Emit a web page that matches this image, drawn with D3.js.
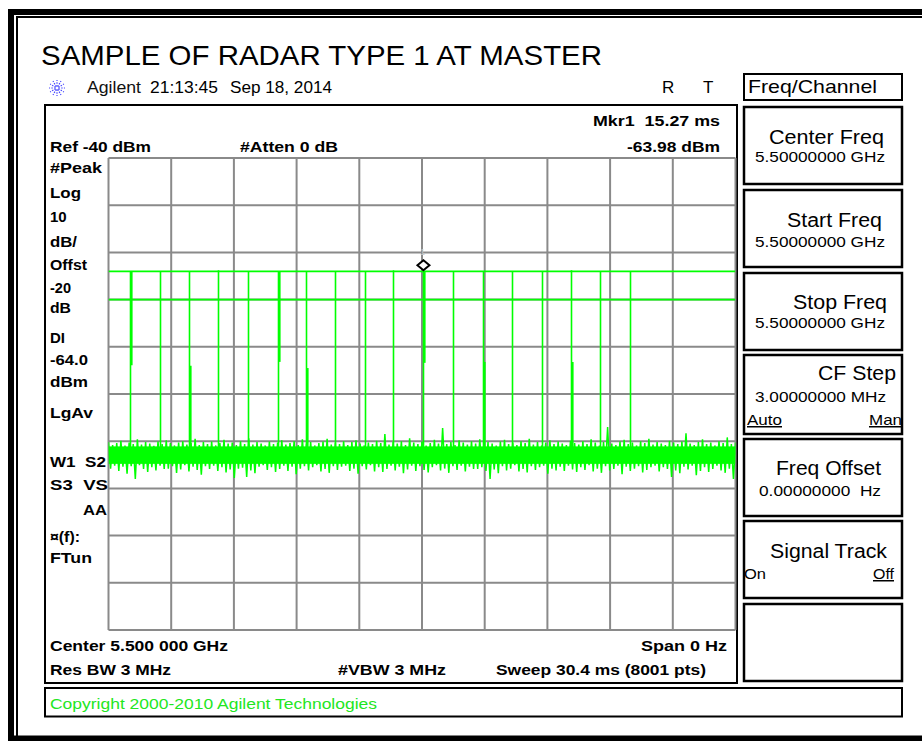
<!DOCTYPE html>
<html><head><meta charset="utf-8">
<script src="https://cdn.jsdelivr.net/npm/d3@7"></script>
<style>
body{margin:0;background:#fff}
svg{display:block}
text{font-family:"Liberation Sans",Arial,sans-serif;white-space:pre}
</style></head>
<body><svg id="c" width="922" height="741"></svg>
<script>
// ---------------- DATA ----------------
const titleText = "SAMPLE OF RADAR TYPE 1 AT MASTER";
const sweepMs = 30.4;          // span of time axis (ms)
const refLevel = -40;          // dBm at top graticule
const dbPerDiv = 10;
const divisions = 10;
const displayLine = -64.0;     // DI level dBm
const thresholdLine = -70.0;   // second green line dBm
const markerTime = 15.27;      // ms
const markerLevel = -63.98;    // dBm

// pulse times (ms) and peak levels (dBm)
const pulseTimes = [1.04,2.50,3.90,5.31,6.76,8.22,9.58,10.98,12.44,13.79,15.27,16.70,18.16,19.57,21.02,22.42,23.83,25.28];
const pulsePeaks = [-64.0,-64.0,-64.0,-63.8,-64.0,-64.0,-64.0,-64.0,-64.0,-63.8,-63.98,-64.0,-64.0,-64.0,-64.0,-63.8,-64.0,-64.0];
// extra trace samples around some pulses (dBm): upper = peak down to level, lower = noise up to level
const pulseUpper = [-83.9,null,null,null,null,-83.2,null,null,null,null,-83.4,null,null,null,null,null,null,null];
const pulseLower = [null,null,-84.0,null,null,null,-84.5,null,null,null,null,null,-83.2,null,null,-83.2,null,null];

// noise floor: sample every 0.2 ms, upper and lower excursions (dBm)
const noiseStep = 0.2;
const noiseTop = [
-100.2,-100.8,-100.4,-99.9,-100.9,-100.3,-100.6,-99.6,-100.7,-100.2,
-100.5,-101.0,-100.1,-100.6,-99.8,-100.4,-100.9,-100.3,-100.0,-100.7,
-100.4,-99.5,-100.8,-100.2,-100.6,-100.1,-100.9,-100.4,-99.7,-100.5,
-100.3,-100.8,-100.0,-100.6,-99.4,-100.7,-100.2,-100.5,-100.9,-100.1,
-100.6,-100.3,-99.8,-100.7,-100.4,-100.0,-100.8,-99.6,-100.5,-100.2,
-100.9,-100.4,-100.1,-99.5,-100.7,-100.3,-100.6,-100.0,-100.8,-100.2,
-99.8,-100.5,-100.9,-100.3,-100.6,-99.9,-100.4,-98.5,-100.7,-100.2,
-100.5,-100.0,-100.8,-99.4,-100.3,-100.6,-100.1,-100.9,-100.4,-99.7,
-100.5,-97.2,-100.6,-100.2,-100.8,-99.8,-100.3,-100.7,-100.0,-100.5,
-99.6,-100.8,-100.2,-100.5,-100.9,-100.1,-99.7,-100.6,-100.3,-100.8,
-100.0,-100.4,-99.5,-100.7,-100.2,-100.9,-100.3,-99.8,-100.6,-100.1,
-100.5,-100.8,-99.9,-100.4,-100.7,-100.0,-100.6,-99.6,-100.3,-100.9,
-100.2,-97.0,-100.5,-100.8,-100.1,-99.7,-100.6,-100.3,-100.9,-100.0,
-100.4,-99.5,-100.7,-100.2,-100.5,-100.8,-99.9,-100.3,-100.6,-100.1,
-98.3,-100.5,-100.8,-100.2,-99.6,-100.6,-100.3,-100.9,-100.0,-100.4,
-99.2,-100.6,-100.3];
const noiseBottom = [
-105.8,-105.2,-106.3,-105.4,-106.9,-105.3,-108.0,-105.1,-105.9,-106.5,
-105.5,-106.2,-105.2,-105.9,-105.8,-105.3,-106.7,-106.0,-105.1,-106.4,
-105.4,-106.1,-107.1,-105.3,-105.9,-105.2,-106.3,-105.5,-106.6,-106.0,
-107.8,-105.8,-105.6,-107.6,-106.2,-106.8,-105.4,-105.1,-106.1,-105.5,
-106.5,-105.9,-105.2,-106.3,-105.4,-107.0,-105.8,-105.3,-106.2,-105.5,
-105.1,-106.4,-105.9,-106.7,-105.3,-106.1,-105.4,-105.2,-106.3,-105.8,
-106.9,-105.3,-106.0,-105.1,-106.4,-105.5,-106.5,-105.9,-105.2,-106.2,
-105.4,-106.8,-106.0,-105.2,-106.3,-105.3,-106.1,-106.6,-105.5,-105.1,
-106.2,-105.8,-106.7,-105.3,-106.1,-105.2,-106.4,-105.4,-105.9,-105.9,
-105.5,-106.3,-108.0,-106.0,-106.8,-105.3,-106.2,-105.8,-105.1,-106.4,
-105.9,-106.6,-105.3,-106.1,-105.5,-105.2,-106.9,-105.8,-106.2,-105.4,
-106.3,-105.2,-106.0,-106.5,-105.5,-106.1,-105.1,-106.4,-105.8,-106.7,
-105.3,-106.2,-105.9,-105.2,-107.0,-105.4,-106.3,-105.8,-105.3,-106.6,
-106.1,-105.5,-105.2,-106.4,-105.5,-105.9,-107.6,-106.2,-106.8,-105.4,
-106.0,-105.2,-107.2,-106.3,-105.5,-106.5,-105.9,-105.2,-106.2,-106.7,
-105.8,-108.0,-105.3];
const noiseCore = [-101.1, -104.8];   // solid band of the noise floor (dBm)

// annotation texts
const headerTexts = ["Agilent", "21:13:45", "Sep 18, 2014"];
const statusTexts = ["R", "T"];
const topLeftTexts = ["Ref -40 dBm", "#Atten 0 dB"];
const markerTexts = ["Mkr1  15.27 ms", "-63.98 dBm"];
const leftAnnots = ["#Peak","Log","10","dB/","Offst","-20","dB","DI","-64.0","dBm","LgAv","W1  S2","S3  VS","AA","\u00a4(f):","FTun"];
const bottomTexts = ["Center 5.500 000 GHz","Span 0 Hz","Res BW 3 MHz","#VBW 3 MHz","Sweep 30.4 ms (8001 pts)"];
const copyrightText = "Copyright 2000-2010 Agilent Technologies";
const menuTitle = "Freq/Channel";
const softLabels = ["Center Freq","Start Freq","Stop Freq","CF Step","Freq Offset","Signal Track",""];
const softValues = ["5.50000000 GHz","5.50000000 GHz","5.50000000 GHz","3.00000000 MHz","0.00000000  Hz","",""];

// ---------------- DRAW ----------------
const svg = d3.select("#c");
const G = "#00ff00";

function T(g, x, y, s, o) {
  o = o || {};
  const t = g.append("text").attr("x", x).attr("y", y).text(s)
    .attr("font-size", o.size || 15)
    .attr("font-weight", o.weight || "normal")
    .attr("fill", o.fill || "#000")
    .attr("text-anchor", o.anchor || "start");
  if (o.len) t.attr("textLength", o.len).attr("lengthAdjust", "spacingAndGlyphs");
  if (o.underline) t.attr("text-decoration", "underline");
  return t;
}

// outer frame
svg.append("rect").attr("x", 11).attr("y", 12).attr("width", 930).attr("height", 726.5)
  .attr("fill", "none").attr("stroke", "#000").attr("stroke-width", 6);
svg.append("rect").attr("x", 17).attr("y", 17).attr("width", 930).attr("height", 720)
  .attr("fill", "none").attr("stroke", "#000").attr("stroke-width", 2);

// title
T(svg, 41, 65, titleText, {size: 28, len: 561});

// Agilent logo
const logo = svg.append("g").attr("transform", "translate(57,88)");
d3.range(12).forEach(i => {
  const a = i * Math.PI / 6;
  logo.append("line").attr("x1", 1.5 * Math.cos(a)).attr("y1", 1.5 * Math.sin(a))
    .attr("x2", 8 * Math.cos(a)).attr("y2", 8 * Math.sin(a))
    .attr("stroke", "#4a4aff").attr("stroke-width", 1.2).attr("stroke-dasharray", "1.5,1.2");
});
T(svg, 87, 93, headerTexts[0], {size: 16, len: 54, fill: "#111"});
T(svg, 150, 93, headerTexts[1], {size: 16, len: 68});
T(svg, 230, 93, headerTexts[2], {size: 16, len: 102});
T(svg, 662, 93, statusTexts[0], {size: 17});
T(svg, 703, 93, statusTexts[1], {size: 17});

// screen box
svg.append("rect").attr("x", 45).attr("y", 105).attr("width", 692).attr("height", 578)
  .attr("fill", "none").attr("stroke", "#000").attr("stroke-width", 2);
// copyright box
svg.append("rect").attr("x", 45).attr("y", 688).attr("width", 857).attr("height", 28.5)
  .attr("fill", "none").attr("stroke", "#000").attr("stroke-width", 2);
T(svg, 50, 709, copyrightText, {size: 15, len: 327, fill: "#22e622"});

// scales
const x = d3.scaleLinear().domain([0, sweepMs]).range([108.5, 735.5]);
const y = d3.scaleLinear().domain([refLevel - dbPerDiv * divisions, refLevel]).range([630, 158]);

// grid
const grid = svg.append("g").attr("stroke", "#8a8a8a").attr("stroke-width", 2);
d3.range(divisions + 1).forEach(i => {
  const t = i * sweepMs / divisions;
  grid.append("line").attr("x1", x(t)).attr("x2", x(t)).attr("y1", y.range()[1]).attr("y2", y.range()[0]);
  const l = refLevel - i * dbPerDiv;
  grid.append("line").attr("x1", x.range()[0]).attr("x2", x.range()[1]).attr("y1", y(l)).attr("y2", y(l));
});

// annotations inside the screen
T(svg, 50, 152, topLeftTexts[0], {weight: "bold", len: 101});
T(svg, 240, 152, topLeftTexts[1], {weight: "bold", len: 98});
T(svg, 720, 126, markerTexts[0], {weight: "bold", anchor: "end", len: 127});
T(svg, 720, 152, markerTexts[1], {weight: "bold", anchor: "end", len: 93});
const annY = [173,198,222,247,270,293,313,343,365,387,418,467,490,515,542,563];
const annLen = [52,31,null,27,37,21,21,null,38,38,43,56,58,24,30,42];
leftAnnots.forEach((s, i) => {
  const xx = s === "AA" ? 83 : 50;
  T(svg, xx, annY[i], s, {weight: "bold", len: annLen[i]});
});
T(svg, 50, 651, bottomTexts[0], {weight: "bold", len: 178});
T(svg, 727, 651, bottomTexts[1], {weight: "bold", anchor: "end", len: 86});
T(svg, 50, 675, bottomTexts[2], {weight: "bold", len: 121});
T(svg, 338, 675, bottomTexts[3], {weight: "bold", len: 108});
T(svg, 496, 675, bottomTexts[4], {weight: "bold", len: 210});

// trace
svg.append("clipPath").attr("id", "clip").append("rect")
  .attr("x", x.range()[0]).attr("y", y.range()[1]).attr("width", x.range()[1] - x.range()[0]).attr("height", y.range()[0] - y.range()[1]);
const tr = svg.append("g").attr("clip-path", "url(#clip)");

// display lines
[displayLine, thresholdLine].forEach(l => {
  tr.append("line").attr("x1", x.range()[0]).attr("x2", x.range()[1]).attr("y1", y(l)).attr("y2", y(l))
    .attr("stroke", G).attr("stroke-width", 1.8);
});

// noise core band
tr.append("rect").attr("x", x(0)).attr("width", x(sweepMs) - x(0))
  .attr("y", y(noiseCore[0])).attr("height", y(noiseCore[1]) - y(noiseCore[0])).attr("fill", G);
// noise zigzag
const pts = [];
noiseTop.forEach((v, i) => {
  pts.push([x(i * noiseStep), y(v)]);
  pts.push([x(i * noiseStep + noiseStep / 2), y(noiseBottom[i])]);
});
tr.append("path").attr("d", d3.line()(pts)).attr("fill", "none").attr("stroke", G).attr("stroke-width", 1.5);

// pulses
const noiseMid = (noiseCore[0] + noiseCore[1]) / 2;
pulseTimes.forEach((t, i) => {
  const px = Math.round(x(t)) + 0.5;
  tr.append("line").attr("x1", px).attr("x2", px).attr("y1", y(noiseMid)).attr("y2", y(pulsePeaks[i]))
    .attr("stroke", G).attr("stroke-width", 1.6);
  if (pulseUpper[i] !== null) {
    tr.append("line").attr("x1", px + 1.2).attr("x2", px + 1.2).attr("y1", y(pulsePeaks[i])).attr("y2", y(pulseUpper[i]))
      .attr("stroke", G).attr("stroke-width", 1.8);
  }
  if (pulseLower[i] !== null) {
    tr.append("line").attr("x1", px + 1.2).attr("x2", px + 1.2).attr("y1", y(noiseMid)).attr("y2", y(pulseLower[i]))
      .attr("stroke", G).attr("stroke-width", 1.8);
  }
});

// marker
const mx = x(markerTime), my = y(markerLevel) - 6;
svg.append("path").attr("d", `M${mx},${my - 5}L${mx + 6},${my}L${mx},${my + 5}L${mx - 6},${my}Z`)
  .attr("fill", "#fff").attr("stroke", "#000").attr("stroke-width", 2);
T(svg, mx - 1, my - 10, "1", {size: 9, fill: "#c8c8c8", anchor: "middle"});

// menu
svg.append("rect").attr("x", 744).attr("y", 74).attr("width", 158).attr("height", 26)
  .attr("fill", "none").attr("stroke", "#000").attr("stroke-width", 2);
T(svg, 748, 93, menuTitle, {size: 19, len: 129});

const keyTops = [107, 190, 273, 355, 439, 521, 604];
const keyBots = [184, 267, 350, 434, 516, 598, 681];
const labelLayout = [[884, 144, 115], [882, 227, 95], [887, 309, 94], [896, 380, 78], [881, 475, 105], [887, 558, 117]];
const valueLayout = [[755, 162, 130], [755, 247, 130], [755, 328, 130], [755, 402, 131], [759, 496, 122]];
keyTops.forEach((t, i) => {
  svg.append("rect").attr("x", 744).attr("y", t).attr("width", 158).attr("height", keyBots[i] - t)
    .attr("fill", "none").attr("stroke", "#000").attr("stroke-width", 2.5);
  if (softLabels[i]) {
    const L = labelLayout[i];
    T(svg, L[0], L[1], softLabels[i], {size: 20, anchor: "end", len: L[2]});
  }
  if (softValues[i]) {
    const V = valueLayout[i];
    T(svg, V[0], V[1], softValues[i], {size: 15.5, len: V[2]});
  }
});
T(svg, 747, 425, "Auto", {size: 15, underline: true, len: 35});
T(svg, 902, 425, "Man", {size: 15, underline: true, anchor: "end", len: 33});
T(svg, 744, 579, "On", {size: 15, len: 22});
T(svg, 894, 579, "Off", {size: 15, underline: true, anchor: "end", len: 21});
</script></body></html>
